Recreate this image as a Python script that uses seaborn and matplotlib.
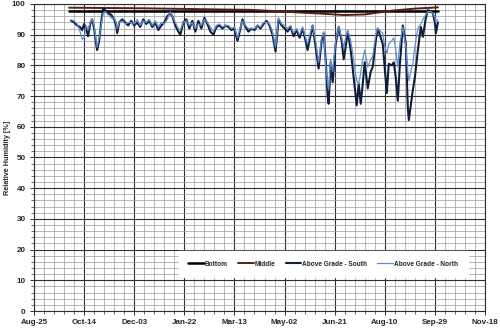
import numpy as np
import pandas as pd
import matplotlib
matplotlib.use("Agg")
import matplotlib.pyplot as plt
import matplotlib.dates as mdates
from matplotlib.ticker import MultipleLocator
import seaborn as sns

# ---------------- data ----------------
start_date = "2012-08-25"
end_date = "2013-11-18"
tick_step_days = 50

# day offsets from start_date for the two above-grade sensors
days = [37, 40, 43, 46, 48, 50, 52, 54, 56, 58, 60, 62, 63, 65, 67, 69, 71, 74, 77, 80,
        82, 83, 85, 88, 91, 94, 97, 100, 103, 106, 109, 112, 115, 118, 121, 124, 127, 130,
        133, 136, 138, 141, 144, 146, 149, 152, 155, 158, 161, 164, 167, 170, 173, 176, 179,
        182, 185, 188, 191, 194, 197, 200, 203, 206, 208, 211, 214, 217, 220, 223, 226, 229,
        232, 235, 238, 241, 244, 247, 250, 253, 256, 259, 262, 265, 268, 271, 273, 276, 278,
        281, 284, 287, 289, 291, 293, 294, 296, 298, 301, 304, 307, 309, 311, 313, 316, 318,
        320, 322, 324, 326, 328, 330, 333, 336, 338, 341, 343, 346, 348, 350, 352, 354, 357,
        359, 361, 363, 365, 368, 371, 373, 374, 376, 378, 380, 383, 386, 388, 391, 393, 396,
        398, 400, 401, 403]
south = [94.6, 94.0, 93.0, 92.5, 91.5, 93.5, 92.0, 89.5, 93.5, 95.0, 92.0, 87.0, 85.0, 88.0,
         94.0, 98.5, 98.0, 97.0, 96.5, 95.0, 93.0, 90.5, 94.0, 95.0, 94.0, 93.0, 94.5, 93.0,
         94.0, 92.5, 95.0, 93.5, 94.5, 92.5, 94.0, 91.5, 93.0, 94.0, 96.0, 97.0, 96.0, 93.0,
         91.0, 90.0, 94.0, 95.0, 92.0, 94.5, 91.0, 94.5, 92.0, 95.5, 93.5, 91.0, 90.0, 92.5,
         93.0, 92.0, 93.0, 92.5, 91.5, 92.0, 88.0, 92.0, 95.0, 92.5, 91.0, 92.0, 91.5, 93.0,
         92.0, 93.5, 94.5, 93.0, 90.0, 84.5, 95.0, 93.0, 92.0, 91.0, 92.5, 89.5, 91.5, 89.0,
         92.0, 88.0, 85.0, 90.0, 93.0, 86.0, 79.0, 88.0, 90.5, 82.0, 70.0, 67.5, 81.0, 74.5,
         87.0, 92.5, 88.0, 82.0, 86.0, 91.0, 85.0, 79.0, 73.0, 67.0, 74.0, 67.5, 74.0, 81.0,
         72.5, 78.0, 79.5, 88.0, 92.0, 89.0, 87.0, 79.0, 71.0, 80.5, 80.0, 81.0, 76.0, 68.5,
         80.0, 93.0, 87.0, 66.0, 62.2, 67.0, 72.0, 76.0, 85.0, 92.5, 89.3, 95.5, 98.0, 97.5,
         97.0, 94.0, 90.5, 94.0]
north = [94.8, 94.5, 93.5, 91.0, 88.5, 89.0, 93.0, 91.5, 94.0, 95.0, 93.0, 88.0, 86.0, 89.0,
         93.0, 97.0, 97.5, 96.5, 95.5, 95.5, 94.0, 92.0, 94.0, 94.5, 93.5, 94.0, 94.0, 93.5,
         95.0, 93.0, 94.5, 94.0, 95.0, 93.0, 94.5, 92.5, 94.0, 93.5, 95.0, 97.5, 96.0, 94.0,
         92.0, 91.5, 94.0, 94.5, 93.0, 94.0, 92.0, 93.5, 93.0, 95.0, 94.0, 92.5, 91.0, 93.0,
         93.5, 92.5, 93.0, 93.0, 92.0, 92.5, 89.0, 92.5, 94.5, 93.0, 92.0, 92.0, 92.0, 93.0,
         92.5, 94.0, 94.0, 93.5, 91.0, 86.0, 95.5, 93.5, 93.0, 92.0, 93.0, 90.5, 92.0, 90.0,
         92.5, 89.0, 87.0, 91.0, 93.0, 88.0, 81.0, 89.0, 91.0, 80.0, 74.0, 72.0, 82.0, 78.0,
         88.0, 92.5, 89.0, 86.0, 89.0, 91.5, 88.0, 84.0, 79.0, 75.0, 74.0, 77.5, 82.0, 85.0,
         79.5, 82.0, 83.0, 90.0, 92.0, 91.0, 90.5, 86.0, 84.0, 87.0, 88.0, 89.0, 85.0, 79.5,
         87.0, 92.5, 86.0, 78.0, 75.0, 78.0, 80.5, 86.0, 92.0, 93.5, 95.0, 96.5, 97.5, 97.5,
         97.0, 95.5, 94.0, 95.0]

# sensors embedded in the wall (nearly flat)
bm_days = [35, 70, 110, 150, 190, 216, 240, 266, 290, 309, 330, 356, 380, 403]
bottom = [97.7, 97.7, 97.7, 97.7, 97.7, 97.7, 97.7, 97.7, 97.7, 97.7, 97.7, 97.7, 97.7, 97.7]
middle = [98.8, 98.7, 98.6, 98.4, 98.2, 98.1, 97.7, 97.2, 96.8, 96.4, 96.6, 97.8, 98.5, 98.9]

labels = ["Bottom", "Middle", "Above Grade - South", "Above Grade - North"]
colors = ["#000000", "#5a1c14", "#0f1d3f", "#5b8fd6"]
widths = [1.8, 1.4, 1.5, 0.9]

# ---------------- figure ----------------
sns.set_theme(style="white")
plt.rcParams["font.family"] = ["Liberation Sans", "DejaVu Sans"]

t0 = pd.Timestamp(start_date)
t1 = pd.Timestamp(end_date)
d_main = t0 + pd.to_timedelta(days, unit="D")
d_bm = t0 + pd.to_timedelta(bm_days, unit="D")

fig = plt.figure(figsize=(5.0, 3.31), dpi=100)
ax = fig.add_axes([34 / 500, 1 - 311 / 331, 451 / 500, 307 / 331])

sns.lineplot(x=d_bm, y=bottom, ax=ax, color=colors[0], lw=widths[0], label=labels[0])
sns.lineplot(x=d_bm, y=middle, ax=ax, color=colors[1], lw=widths[1], label=labels[1])
sns.lineplot(x=d_main, y=south, ax=ax, color=colors[2], lw=widths[2], label=labels[2])
sns.lineplot(x=d_main, y=north, ax=ax, color=colors[3], lw=widths[3], label=labels[3])

ax.set_xlim(t0, t1)
ax.set_ylim(0, 100)

major_ticks = pd.date_range(t0, t1, freq=f"{tick_step_days}D")
minor_ticks = pd.date_range(t0, t1, freq=f"{tick_step_days // 5}D")
ax.set_xticks(major_ticks)
ax.set_xticks(minor_ticks, minor=True)
ax.xaxis.set_major_formatter(mdates.DateFormatter("%b-%d"))
ax.yaxis.set_major_locator(MultipleLocator(10))
ax.yaxis.set_minor_locator(MultipleLocator(2))

ax.grid(True, which="major", color="#303030", lw=0.8)
ax.grid(True, which="minor", color="#9a9a9a", lw=0.5)
ax.set_axisbelow(True)

for s in ax.spines.values():
    s.set_color("#303030")
    s.set_linewidth(0.8)

ax.tick_params(axis="both", which="major", direction="out", length=3, width=0.7,
               color="#303030", labelsize=5.8, pad=3)
ax.tick_params(axis="both", which="minor", direction="out", length=2, width=0.5,
               color="#303030")
ax.tick_params(axis="y", left=True, which="both")
ax.tick_params(axis="x", bottom=True, which="both")
for lab in ax.get_xticklabels() + ax.get_yticklabels():
    lab.set_fontweight("bold")

ax.set_xlabel("")
ax.set_ylabel("Relative Humidity [%]", fontsize=5.2, fontweight="bold")
ax.yaxis.set_label_coords(-0.05, 0.5)

leg = ax.legend(loc="center", bbox_to_anchor=(0.641, 0.153), ncol=4, frameon=True,
                fontsize=4.7, handlelength=2.35, columnspacing=1.6, handletextpad=0.15,
                borderpad=1.5, fancybox=False)
leg.get_frame().set_edgecolor("white")
leg.get_frame().set_facecolor("white")
leg.get_frame().set_alpha(1)
for txt in leg.get_texts():
    txt.set_fontweight("bold")

fig.savefig("out.png", dpi=100)
